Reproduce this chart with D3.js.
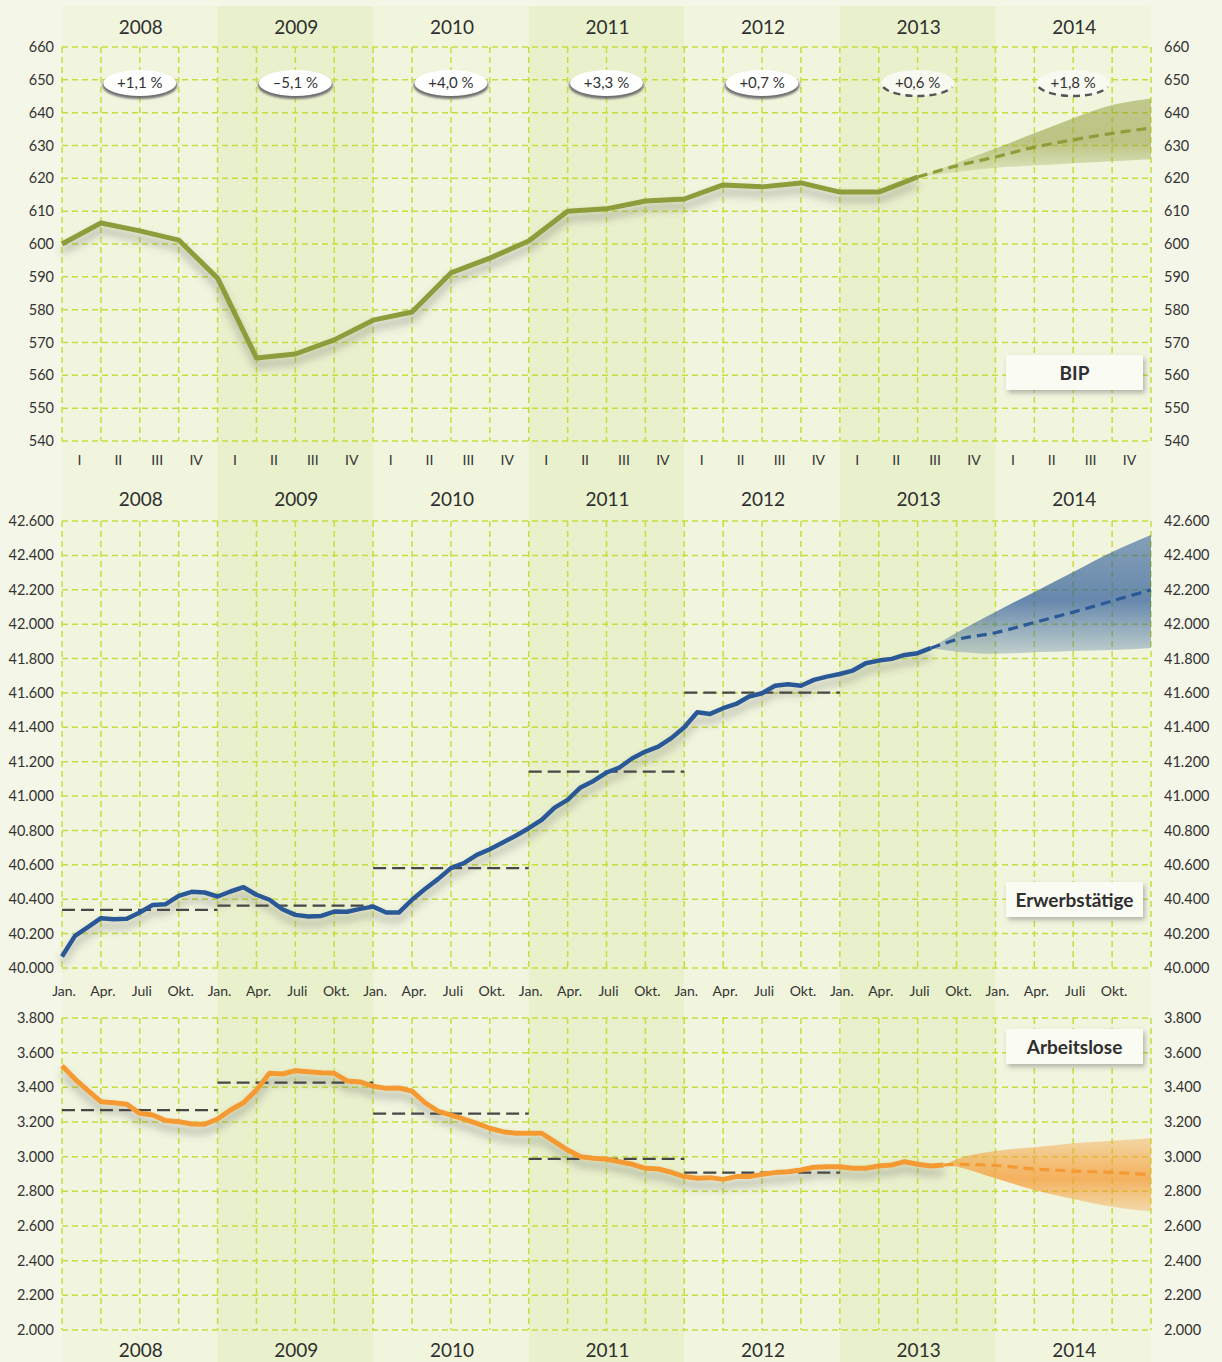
<!DOCTYPE html>
<html>
<head>
<meta charset="utf-8">
<script src="https://cdn.jsdelivr.net/npm/d3@7"></script>
<style>
  body { margin: 0; background: #f4f6e7; }
  svg { display: block; font-family: "Lato", "Open Sans", sans-serif; }
</style>
</head>
<body>
<div id="chart"></div>
<script>
// ---- data ----
const years = ["2008", "2009", "2010", "2011", "2012", "2013", "2014"];
const quarterLabels = ["I", "II", "III", "IV"];
const monthLabels = ["Jan.", "Apr.", "Juli", "Okt."];
const growthLabels = ["+1,1 %", "–5,1 %", "+4,0 %", "+3,3 %", "+0,7 %", "+0,6 %", "+1,8 %"];
const growthIsForecast = [false, false, false, false, false, true, true];

// BIP, quarterly, 2008 Q1 .. 2013 Q3
const bipValues = [600.0, 606.4, 604.0, 601.2, 589.6, 565.3, 566.5, 570.8, 576.8, 579.3, 591.2, 595.7,
  600.9, 610.0, 610.7, 613.1, 613.7, 618.0, 617.4, 618.6, 615.8, 615.8, 620.4];
const bipForecastDates = ["2013-07", "2013-10", "2014-01", "2014-04", "2014-07", "2014-10", "2015-01"];
const bipForecast = [620.4, 623.8, 626.5, 629.5, 631.7, 633.7, 635.3];
const bipBandHigh = [620.4, 624.7, 629.1, 633.7, 638.3, 642.3, 644.3];
const bipBandLow = [620.4, 621.9, 623.2, 623.9, 624.6, 625.2, 625.8];

// Erwerbstätige (thousands), monthly, Jan 2008 .. Aug 2013
const empValues = [
  40067, 40187, 40238, 40290, 40284, 40286, 40323, 40367, 40371, 40420, 40443, 40439,
  40416, 40445, 40470, 40426, 40397, 40342, 40309, 40299, 40303, 40328, 40327, 40344,
  40357, 40323, 40323, 40397, 40459, 40517, 40581, 40610, 40658, 40691, 40730, 40769,
  40813, 40862, 40933, 40978, 41050, 41088, 41137, 41166, 41220, 41259, 41288, 41337,
  41400, 41488, 41478, 41511, 41536, 41579, 41598, 41642, 41651, 41642, 41676, 41695,
  41710, 41730, 41773, 41788, 41798, 41821, 41831, 41860];
const empAnnual = [40338, 40363, 40581, 41142, 41602];
const empForecastDates = ["2013-08", "2013-10", "2014-01", "2014-04", "2014-07", "2014-10", "2015-01"];
const empForecast = [41860, 41910, 41950, 42010, 42070, 42135, 42200];
const empBandHigh = [41860, 41950, 42071, 42187, 42303, 42420, 42519];
const empBandLow = [41860, 41840, 41828, 41836, 41844, 41850, 41862];

// Arbeitslose (thousands), monthly, Jan 2008 .. Sep 2013
const unempValues = [
  3525, 3448, 3381, 3317, 3311, 3302, 3250, 3240, 3208, 3202, 3188, 3187,
  3217, 3269, 3311, 3385, 3481, 3477, 3496, 3490, 3484, 3481, 3437, 3431,
  3406, 3394, 3396, 3378, 3311, 3263, 3240, 3217, 3192, 3164, 3144, 3135,
  3135, 3135, 3087, 3038, 3000, 2991, 2985, 2971, 2956, 2933, 2929, 2910,
  2885, 2875, 2879, 2869, 2885, 2885, 2898, 2908, 2913, 2923, 2939, 2942,
  2942, 2933, 2933, 2946, 2952, 2971, 2956, 2946, 2952];
const unempAnnual = [3269, 3427, 3248, 2987, 2908];
const unempForecastDates = ["2013-09", "2013-10", "2014-01", "2014-04", "2014-07", "2014-10", "2015-01"];
const unempForecast = [2952, 2956, 2949, 2929, 2917, 2909, 2895];
const unempBandHigh = [2952, 2985, 3033, 3054, 3077, 3092, 3106];
const unempBandLow = [2952, 2942, 2875, 2808, 2756, 2711, 2683];

// ---- layout ----
const W = 1222, H = 1362;
const monthIndex = s => (+s.slice(0, 4) - 2008) * 12 + (+s.slice(5, 7) - 1);
const x = d3.scaleLinear().domain([0, 84]).range([62, 1151]);
const de = d3.formatLocale({ decimal: ",", thousands: ".", grouping: [3], currency: ["", " €"] });
const fmt = de.format(",");

const svg = d3.select("#chart").append("svg")
  .attr("width", W).attr("height", H);

const defs = svg.append("defs");
const shadow = defs.append("filter").attr("id", "lineShadow")
  .attr("x", "-5%").attr("y", "-20%").attr("width", "110%").attr("height", "160%");
shadow.append("feDropShadow").attr("dx", 0).attr("dy", 7).attr("stdDeviation", 4.5)
  .attr("flood-color", "#555").attr("flood-opacity", 0.45);
const boxShadow = defs.append("filter").attr("id", "boxShadow")
  .attr("x", "-20%").attr("y", "-30%").attr("width", "140%").attr("height", "180%");
boxShadow.append("feDropShadow").attr("dx", 2).attr("dy", 3).attr("stdDeviation", 2.5)
  .attr("flood-color", "#666").attr("flood-opacity", 0.45);
const ellBlur = defs.append("filter").attr("id", "ellBlur");
ellBlur.append("feGaussianBlur").attr("stdDeviation", 1.2);

function bandGradient(id, color, top, mid, bottom) {
  const g = defs.append("linearGradient").attr("id", id)
    .attr("x1", 0).attr("y1", 0).attr("x2", 0).attr("y2", 1);
  g.append("stop").attr("offset", "0%").attr("stop-color", color).attr("stop-opacity", top);
  g.append("stop").attr("offset", "55%").attr("stop-color", color).attr("stop-opacity", mid);
  g.append("stop").attr("offset", "100%").attr("stop-color", color).attr("stop-opacity", bottom);
}
bandGradient("bipBand", "#8f9c3a", 0.5, 0.55, 0.15);
bandGradient("empBand", "#2c5a98", 0.55, 0.7, 0.25);
bandGradient("unempBand", "#f59a33", 0.35, 0.75, 0.3);

// year bands
svg.append("rect").attr("width", W).attr("height", H).attr("fill", "#f4f6e7");
svg.selectAll(".yearBand").data(years).enter().append("rect")
  .attr("x", (d, i) => x(i * 12))
  .attr("y", 6)
  .attr("width", x(12) - x(0))
  .attr("height", H - 6)
  .attr("fill", (d, i) => i % 2 ? "#e9f0cc" : "#f1f5de");

const gridColor = "#c7dd3e";

function panel(opts) {
  const y = d3.scaleLinear().domain(opts.domain).range(opts.range);
  const ticks = d3.range(opts.domain[0], opts.domain[1] + 1, opts.step);
  const g = svg.append("g");

  // grid
  g.selectAll(".hgrid").data(ticks).enter().append("line")
    .attr("x1", x(0)).attr("x2", x(84))
    .attr("y1", d => y(d)).attr("y2", d => y(d))
    .attr("stroke", gridColor).attr("stroke-width", 1.5).attr("stroke-dasharray", "6,4");
  g.selectAll(".vgrid").data(d3.range(0, 85, 3)).enter().append("line")
    .attr("x1", d => x(d)).attr("x2", d => x(d))
    .attr("y1", opts.range[1]).attr("y2", opts.range[0])
    .attr("stroke", gridColor).attr("stroke-width", 1.5).attr("stroke-dasharray", "6,4");

  // tick labels both sides
  g.selectAll(".lt").data(ticks).enter().append("text")
    .attr("x", 54).attr("y", d => y(d)).attr("dy", "0.35em")
    .attr("text-anchor", "end").attr("font-size", 14.5).attr("fill", "#333")
    .text(d => fmt(d));
  g.selectAll(".rt").data(ticks).enter().append("text")
    .attr("x", 1164).attr("y", d => y(d)).attr("dy", "0.35em")
    .attr("text-anchor", "start").attr("font-size", 14.5).attr("fill", "#333")
    .text(d => fmt(d));

  // forecast band
  const fIdx = opts.fDates.map(monthIndex);
  const area = d3.area()
    .x((d, i) => x(fIdx[i]))
    .y0((d, i) => y(opts.bandLow[i]))
    .y1((d, i) => y(opts.bandHigh[i]))
    .curve(d3.curveMonotoneX);
  g.append("path").datum(opts.bandHigh).attr("d", area).attr("fill", `url(#${opts.gradId})`);

  // annual averages
  if (opts.annual) {
    g.selectAll(".avg").data(opts.annual).enter().append("line")
      .attr("x1", (d, i) => x(i * 12)).attr("x2", (d, i) => x(i * 12 + 12))
      .attr("y1", d => y(d)).attr("y2", d => y(d))
      .attr("stroke", "#474747").attr("stroke-width", 2.2).attr("stroke-dasharray", "13,6");
  }

  // actual series
  const line = d3.line()
    .x((d, i) => x(i * opts.stepMonths))
    .y(d => y(d));
  g.append("path").datum(opts.values).attr("d", line)
    .attr("fill", "none").attr("stroke", opts.color).attr("stroke-width", opts.width)
    .attr("stroke-linejoin", "round").attr("filter", "url(#lineShadow)");

  // forecast line
  const fLine = d3.line()
    .x((d, i) => x(fIdx[i]))
    .y(d => y(d))
    .curve(d3.curveMonotoneX);
  g.append("path").datum(opts.forecast).attr("d", fLine)
    .attr("fill", "none").attr("stroke", opts.color).attr("stroke-width", 3.2)
    .attr("stroke-dasharray", "10,6");

  // label box
  const lb = g.append("g").attr("transform", `translate(1006,${opts.labelY})`);
  lb.append("rect").attr("width", 137).attr("height", 35)
    .attr("fill", "#fafbf3").attr("filter", "url(#boxShadow)");
  lb.append("text").attr("x", 68.5).attr("y", 18).attr("dy", "0.35em")
    .attr("text-anchor", "middle").attr("font-size", 19).attr("font-weight", "bold")
    .attr("fill", "#2f2f2f").text(opts.label);

  return y;
}

panel({
  domain: [540, 660], range: [441, 47], step: 10,
  values: bipValues, stepMonths: 3, color: "#8f9c3a", width: 5,
  fDates: bipForecastDates, forecast: bipForecast, bandHigh: bipBandHigh, bandLow: bipBandLow,
  gradId: "bipBand", label: "BIP", labelY: 355
});
panel({
  domain: [40000, 42600], range: [968, 521], step: 200,
  values: empValues, stepMonths: 1, color: "#2a5996", width: 4.5, annual: empAnnual,
  fDates: empForecastDates, forecast: empForecast, bandHigh: empBandHigh, bandLow: empBandLow,
  gradId: "empBand", label: "Erwerbstätige", labelY: 882
});
panel({
  domain: [2000, 3800], range: [1330, 1018], step: 200,
  values: unempValues, stepMonths: 1, color: "#f59a33", width: 5, annual: unempAnnual,
  fDates: unempForecastDates, forecast: unempForecast, bandHigh: unempBandHigh, bandLow: unempBandLow,
  gradId: "unempBand", label: "Arbeitslose", labelY: 1029
});

// year labels (three rows)
[27, 499, 1350].forEach(yy => {
  svg.append("g").selectAll("text").data(years).enter().append("text")
    .attr("x", (d, i) => x(i * 12 + 6) + 1).attr("y", yy).attr("dy", "0.35em")
    .attr("text-anchor", "middle").attr("font-size", 19).attr("fill", "#2f2f2f")
    .text(d => d);
});

// quarter labels
const quarters = d3.range(28);
svg.append("g").selectAll("text").data(quarters).enter().append("text")
  .attr("x", d => x(d * 3 + 1.5) - 2).attr("y", 460).attr("dy", "0.35em")
  .attr("text-anchor", "middle").attr("font-size", 14).attr("fill", "#333")
  .text(d => quarterLabels[d % 4]);

// month labels
svg.append("g").selectAll("text").data(quarters).enter().append("text")
  .attr("x", d => x(d * 3) + 2).attr("y", 991).attr("dy", "0.35em")
  .attr("text-anchor", "middle").attr("font-size", 14).attr("fill", "#333")
  .text(d => monthLabels[d % 4]);

// growth ellipses
const gl = svg.append("g").selectAll("g").data(growthLabels).enter().append("g")
  .attr("transform", (d, i) => `translate(${x(i * 12 + 6)},83)`);
gl.filter((d, i) => !growthIsForecast[i]).append("ellipse")
  .attr("cx", 0).attr("cy", 2.5).attr("rx", 37.5).attr("ry", 13.5)
  .attr("fill", "#6e6e6e").attr("filter", "url(#ellBlur)");
gl.append("ellipse")
  .attr("cx", 0).attr("cy", 0).attr("rx", 36.5).attr("ry", 13)
  .attr("fill", (d, i) => growthIsForecast[i] ? "#f8f9f0" : "#ffffff");
gl.filter((d, i) => growthIsForecast[i]).append("path")
  .attr("d", "M-34.5,4.2 A36.5,13 0 0 0 34.5,4.2")
  .attr("fill", "none").attr("stroke", "#555").attr("stroke-width", 2.4)
  .attr("stroke-dasharray", "7,5");
gl.append("text").attr("y", 0).attr("dy", "0.35em")
  .attr("text-anchor", "middle").attr("font-size", 15).attr("fill", "#333")
  .text(d => d);
</script>
</body>
</html>
